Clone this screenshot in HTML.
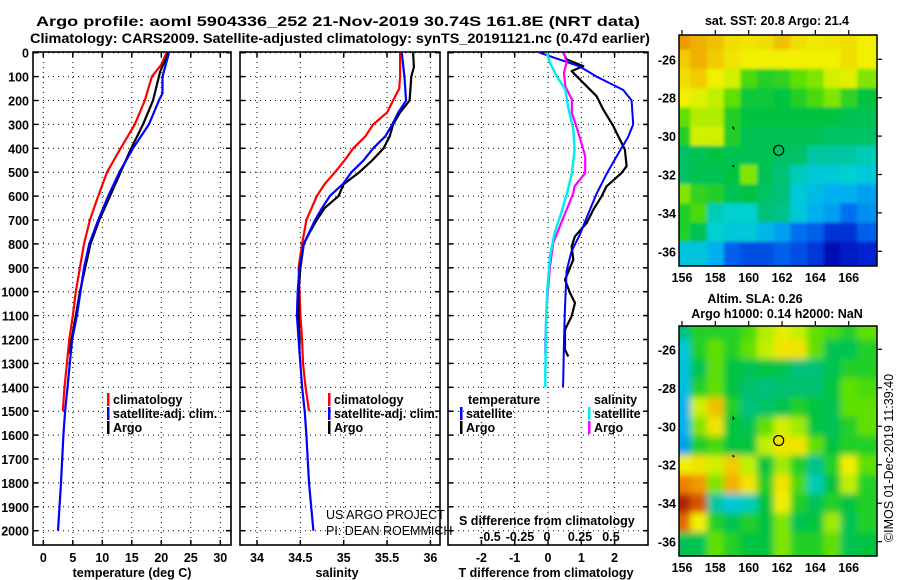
<!DOCTYPE html>
<html><head><meta charset="utf-8"><style>
html,body{margin:0;padding:0;background:#fff;}
svg{display:block;font-family:"Liberation Sans",Arial,sans-serif;}
.b{font-weight:bold;}
</style></head><body>
<svg id="chart" width="900" height="580" viewBox="0 0 900 580" xmlns="http://www.w3.org/2000/svg">
<defs>
<clipPath id="cp1"><rect x="33" y="52" width="198" height="493"/></clipPath>
<clipPath id="cp2"><rect x="240" y="52" width="200" height="493"/></clipPath>
<clipPath id="cp3"><rect x="448" y="52" width="200" height="493"/></clipPath>
<clipPath id="cm1"><rect x="679" y="35" width="198" height="231"/></clipPath>
<clipPath id="cm2"><rect x="679" y="326" width="198" height="230"/></clipPath>
<filter id="blur" x="-5%" y="-5%" width="110%" height="110%"><feGaussianBlur stdDeviation="3.5"/></filter>
<filter id="blur1" x="-5%" y="-5%" width="110%" height="110%"><feGaussianBlur stdDeviation="1.5"/></filter>
</defs>
<text class="b" x="338" y="26" font-size="14" text-anchor="middle" textLength="604" lengthAdjust="spacingAndGlyphs">Argo profile: aoml 5904336_252 21-Nov-2019 30.74S 161.8E (NRT data)</text>
<text class="b" x="340" y="43" font-size="14" text-anchor="middle" textLength="620" lengthAdjust="spacingAndGlyphs">Climatology: CARS2009. Satellite-adjusted climatology: synTS_20191121.nc (0.47d earlier)</text>
<g id="g"></g>
</svg>
<script>
// ===== data =====
const depthTicks=[0,100,200,300,400,500,600,700,800,900,1000,1100,1200,1300,1400,1500,1600,1700,1800,1900,2000];
const tempTicks=[0,5,10,15,20,25,30];
const salTicks=[34,34.5,35,35.5,36];
const salTickLabels=["34","34.5","35","35.5","36"];
const tdiffTicks=[-2,-1,0,1,2];
const sdiffTicks=[-0.5,-0.25,0,0.25,0.5];
const sdiffTickLabels=["-0.5","-0.25","0","0.25","0.5"];
const argoTdepth=[0,80,200,300,400,500,600,700,800,900,1000,1100,1200,1260];
const argoT=[21.2,19.8,18.6,16.9,14.9,13.1,11.3,9.5,8.0,7.1,6.2,5.5,4.8,4.5];
const climTdepth=[0,50,100,200,300,400,500,600,700,800,900,1000,1100,1200,1300,1400,1500];
const climT=[20.9,20.0,18.4,17.2,15.5,13.1,10.8,9.3,7.9,6.9,6.2,5.5,5.0,4.4,4.0,3.6,3.3];
const satTdepth=[0,100,170,200,300,400,500,600,700,800,900,1000,1100,1200,1300,1400,1500,1600,1800,2000];
const satT=[21.3,20.2,20.2,19.6,17.9,15.2,12.9,11.0,9.3,7.8,6.9,6.3,5.7,4.9,4.5,4.1,3.7,3.4,3.0,2.5];
const argoSdepth=[0,60,100,200,250,300,350,400,450,500,550,600,650,700,750,800,900,1000,1100,1200,1260];
const argoS=[35.80,35.81,35.78,35.76,35.65,35.57,35.53,35.46,35.33,35.18,35.0,34.94,34.78,34.69,34.61,34.54,34.50,34.48,34.48,34.49,34.49];
const climSdepth=[0,100,150,200,250,300,350,400,450,500,550,600,650,700,800,900,1000,1100,1200,1300,1400,1500];
const climS=[35.65,35.65,35.64,35.57,35.50,35.34,35.25,35.11,35.01,34.90,34.78,34.69,34.63,34.57,34.52,34.48,34.49,34.50,34.52,34.53,34.56,34.60];
const satSdepth=[0,100,200,250,300,350,400,450,500,550,600,650,700,800,900,1000,1100,1200,1400,1500,1600,1800,2000];
const satS=[35.67,35.70,35.72,35.63,35.56,35.48,35.34,35.23,35.09,34.99,34.84,34.75,34.67,34.54,34.49,34.47,34.46,34.48,34.52,34.55,34.57,34.60,34.65];
const satTdiffDepth=[0,58,100,156,200,300,355,410,507,590,690,760,830,912,1066,1205,1358,1400];
const satTdiff=[-0.25,0.96,1.46,2.26,2.51,2.56,2.4,2.16,1.76,1.46,1.16,0.96,0.71,0.56,0.51,0.48,0.46,0.45];
const argoTdiffDepth=[0,28,56,77,98,140,182,238,307,363,405,475,503,559,601,657,713,768,810,866,950,1005,1047,1103,1159,1243,1271];
const argoTdiff=[0.46,0.56,1.06,0.71,0.86,1.16,1.46,1.66,1.96,2.16,2.31,2.36,2.21,1.76,1.61,1.36,1.16,0.81,0.71,0.76,0.51,0.66,0.81,0.71,0.51,0.51,0.61];
const satSdiffDepth=[0,42,98,154,224,321,405,503,573,670,754,852,991,1130,1358,1400];
const satSdiff=[-0.01,0.015,0.065,0.13,0.15,0.19,0.2,0.18,0.15,0.10,0.05,0.015,-0.005,-0.015,-0.02,-0.02];
const argoSdiffDepth=[0,42,84,140,196,252,321,377,433,503,559,587,643,698,740,796,894,1061,1200,1260];
const argoSdiff=[0.12,0.14,0.12,0.13,0.18,0.18,0.22,0.25,0.28,0.28,0.20,0.19,0.15,0.11,0.08,0.04,0.015,-0.01,-0.02,-0.02];
const mapLons=[156,157,158,159,160,161,162,163,164,165,166,167];
const mapLats=[-25,-26,-27,-28,-29,-30,-31,-32,-33,-34,-35,-36];
const lonTicks=[156,158,160,162,164,166];
const latTicks=[-26,-28,-30,-32,-34,-36];
const sstGrid=[
[.85,.82,.8,.75,.74,.75,.8,.75,.73,.74,.75,.72],
[.78,.82,.78,.74,.72,.72,.72,.72,.72,.72,.75,.72],
[.75,.78,.72,.68,.58,.55,.56,.6,.62,.68,.7,.62],
[.72,.7,.66,.6,.53,.53,.52,.55,.58,.62,.56,.52],
[.6,.65,.65,.55,.52,.52,.52,.52,.52,.52,.5,.5],
[.55,.68,.68,.55,.5,.5,.5,.5,.5,.48,.48,.48],
[.48,.5,.52,.5,.5,.5,.48,.48,.42,.42,.42,.4],
[.48,.5,.5,.52,.62,.5,.46,.4,.36,.36,.38,.36],
[.62,.56,.55,.5,.52,.48,.46,.36,.33,.3,.3,.28],
[.55,.58,.4,.38,.38,.46,.44,.36,.3,.28,.22,.26],
[.55,.5,.38,.36,.36,.32,.28,.22,.2,.14,.14,.2],
[.35,.35,.3,.2,.18,.18,.2,.18,.15,.06,.1,.12]];
const slaGrid=[
[.45,.55,.55,.55,.58,.65,.7,.66,.6,.58,.55,.6],
[.36,.55,.6,.55,.6,.66,.74,.74,.6,.5,.5,.55],
[.34,.5,.6,.52,.5,.52,.5,.46,.46,.5,.55,.55],
[.33,.55,.6,.52,.47,.45,.47,.47,.47,.52,.6,.58],
[.3,.68,.8,.55,.45,.48,.5,.55,.52,.5,.6,.6],
[.3,.62,.74,.52,.5,.6,.68,.64,.52,.5,.55,.6],
[.28,.55,.58,.52,.52,.66,.74,.74,.6,.52,.55,.55],
[.72,.74,.68,.78,.66,.52,.64,.55,.44,.55,.72,.6],
[.88,.85,.62,.82,.74,.55,.74,.58,.4,.52,.66,.55],
[.97,.92,.42,.36,.4,.52,.72,.55,.5,.55,.52,.55],
[.9,.72,.55,.5,.55,.52,.62,.5,.52,.64,.5,.55],
[.5,.5,.6,.55,.52,.52,.62,.55,.55,.6,.5,.52]];
const argoLon=161.8, argoLat=-30.74;

// ===== scales =====
const yD=d=>52.7+d*0.239;
const xT=t=>43.3+t*5.9;
const xS=s=>257+(s-34)*86.7;
const xTd=t=>548+t*33.3;
const xSd=s=>548+s*133;
const mapX=lon=>682+(lon-156)*16.67;
const mapY1=lat=>59.3+(-26-lat)*19.2;
const mapY2=lat=>349.3+(-26-lat)*19.24;

const NS="http://www.w3.org/2000/svg";
const G=document.getElementById('g');
function el(tag,attrs,parent,txt){const e=document.createElementNS(NS,tag);for(const k in attrs)e.setAttribute(k,attrs[k]);if(txt!==undefined)e.textContent=txt;(parent||G).appendChild(e);return e;}

const panels=[[33,231,'cp1'],[240,440,'cp2'],[448,648,'cp3']];
const pgrid=[tempTicks.map(xT),salTicks.map(xS),tdiffTicks.map(xTd)];
panels.forEach((p,i)=>{
  const grp=el('g',{});
  
  
  pgrid[i].forEach(x=>{const l=el('line',{x1:x,x2:x,y1:52,y2:545,stroke:'#000','stroke-width':1,'stroke-dasharray':'1 4'},grp);});
  depthTicks.forEach(d=>{const l=el('line',{x1:p[0],x2:p[1],y1:yD(d),y2:yD(d),stroke:'#000','stroke-width':1,'stroke-dasharray':'1 4'},grp);
    el('line',{x1:p[0],x2:p[0]+5,y1:yD(d),y2:yD(d),stroke:'#000','stroke-width':1.5},grp);
    el('line',{x1:p[1]-5,x2:p[1],y1:yD(d),y2:yD(d),stroke:'#000','stroke-width':1.5},grp);});
  pgrid[i].forEach(x=>{el('line',{x1:x,x2:x,y1:545,y2:540,stroke:'#000','stroke-width':1.5},grp);el('line',{x1:x,x2:x,y1:52,y2:57,stroke:'#000','stroke-width':1.5},grp);});
  const fr=el('rect',{x:p[0],y:52,width:p[1]-p[0],height:493,fill:'none',stroke:'#000','stroke-width':1.6},grp);
  
});
depthTicks.forEach(d=>{const t=el('text',{x:29,y:yD(d)+5,'font-size':12.5,'font-weight':'bold','text-anchor':'end'},G,String(d));});
tempTicks.forEach(v=>{const t=el('text',{x:xT(v),y:562,'font-size':12.5,'font-weight':'bold','text-anchor':'middle'},G,String(v));});
salTicks.forEach((v,i)=>{const t=el('text',{x:xS(v),y:562,'font-size':12.5,'font-weight':'bold','text-anchor':'middle'},G,salTickLabels[i]);});
tdiffTicks.forEach(v=>{const t=el('text',{x:xTd(v),y:562,'font-size':12.5,'font-weight':'bold','text-anchor':'middle'},G,String(v));});
const sdPos={"-0.5":490,"-0.25":520,"0":547,"0.25":580,"0.5":611};
sdiffTicks.forEach((v,i)=>{const t=el('text',{x:sdPos[String(v)],y:541,'font-size':12.5,'font-weight':'bold','text-anchor':'middle'},G,sdiffTickLabels[i]);});
[['temperature (deg C)',132,'temperature-axis-title'],['salinity',337,'salinity-axis-title'],['T difference from climatology',546,'tdiff-axis-title']].forEach(a=>{const t=el('text',{x:a[1],y:577,'font-size':12.5,'font-weight':'bold','text-anchor':'middle'},G,a[0]);});
{const t=el('text',{x:459,y:525,'font-size':12.5,'font-weight':'bold'},G,'S difference from climatology');}

function line(xs,ds,xf,color,w,clip,name){
  const pts=xs.map((v,i)=>xf(v).toFixed(1)+','+yD(ds[i]).toFixed(1)).join(' ');
  const p=el('polyline',{points:pts,fill:'none',stroke:color,'stroke-width':w,'stroke-linejoin':'round','clip-path':'url(#'+clip+')'});
  
}
line(climT,climTdepth,xT,'#f00',2.2,'cp1','climatology-temperature-line');
line(argoT,argoTdepth,xT,'#000',2.2,'cp1','argo-temperature-line');
line(satT,satTdepth,xT,'#00f',2.2,'cp1','satellite-temperature-line');
line(climS,climSdepth,xS,'#f00',2.2,'cp2','climatology-salinity-line');
line(argoS,argoSdepth,xS,'#000',2.2,'cp2','argo-salinity-line');
line(satS,satSdepth,xS,'#00f',2.2,'cp2','satellite-salinity-line');
line(argoTdiff,argoTdiffDepth,xTd,'#000',2.2,'cp3','argo-tdiff-line');
line(satTdiff,satTdiffDepth,xTd,'#00f',2,'cp3','satellite-tdiff-line');
line(argoSdiff,argoSdiffDepth,xSd,'#f0f',2.2,'cp3','argo-sdiff-line');
line(satSdiff,satSdiffDepth,xSd,'#0ee',2.5,'cp3','satellite-sdiff-line');

function leg(x,y,color,txt,name){
  const g=el('g',{});
  if(color) el('rect',{x:x,y:y-11,width:2.5,height:13,fill:color},g);
  el('text',{x:x+6,y:y,'font-size':12.5,'font-weight':'bold'},g,txt);
}
leg(107,404,'#f00','climatology','legend-climatology');
leg(107,418,'#00f','satellite-adj. clim.','legend-satellite-adj');
leg(107,432,'#000','Argo','legend-argo');
leg(328,404,'#f00','climatology','legend-climatology-sal');
leg(328,418,'#00f','satellite-adj. clim.','legend-satellite-adj-sal');
leg(328,432,'#000','Argo','legend-argo-sal');
leg(462,404,null,'temperature','legend-temperature-heading');
leg(460,418,'#00f','satellite','legend-tdiff-satellite');
leg(460,432,'#000','Argo','legend-tdiff-argo');
leg(588,404,null,'salinity','legend-salinity-heading');
leg(588,418,'#0ee','satellite','legend-sdiff-satellite');
leg(588,432,'#f0f','Argo','legend-sdiff-argo');
{const t=el('text',{x:326,y:519,'font-size':12.5},G,'US ARGO PROJECT');
 const t2=el('text',{x:326,y:535,'font-size':12.5},G,'PI: DEAN ROEMMICH');}

const stops=[[0,[0,0,144]],[.12,[0,32,208]],[.22,[0,112,240]],[.3,[0,176,240]],[.38,[0,208,208]],[.45,[0,192,128]],[.52,[0,196,64]],[.6,[96,224,0]],[.66,[192,240,0]],[.72,[240,240,0]],[.8,[240,192,0]],[.88,[240,128,0]],[.95,[192,48,0]],[1,[160,16,0]]];
function cmap(v){for(let i=1;i<stops.length;i++){if(v<=stops[i][0]){const a=stops[i-1],b=stops[i],f=(v-a[0])/(b[0]-a[0]);const c=a[1].map((x,k)=>Math.round(x+(b[1][k]-x)*f));return 'rgb('+c.join(',')+')';}}return 'rgb(160,16,0)';}

function drawMap(grid,yf,clip,top,bot,name,filt,titleLines){
  const g=el('g',{});
  const cg=el('g',{'clip-path':'url(#'+clip+')'},g);
  const ig=el('g',{filter:'url(#'+filt+')'},cg);
  grid.forEach((row,r)=>row.forEach((v,c)=>{
    const x0=mapX(mapLons[c]-0.5),x1=mapX(mapLons[c]+0.5),y0=yf(mapLats[r]+0.5),y1=yf(mapLats[r]-0.5);
    const rc=el('rect',{x:x0-(c==0?20:0),y:y0-(r==0?20:0),width:x1-x0+(c==0?20:0)+(c==11?20:0)+0.5,height:y1-y0+(r==0?20:0)+(r==11?20:0)+0.5,fill:cmap(v)},ig);
    
  }));
  el('path',{d:`M${mapX(159.05)} ${yf(-29.5)} l1 3 M${mapX(159.05)} ${yf(-31.5)} l1 2`,stroke:'#000','stroke-width':1.5},cg);
  const ci=el('circle',{cx:mapX(argoLon),cy:yf(argoLat),r:5,fill:'none',stroke:'#000','stroke-width':1.2},g);
  
  el('rect',{x:679,y:top,width:198,height:bot-top,fill:'none',stroke:'#000','stroke-width':1.5},g);
  lonTicks.forEach(l=>{el('line',{x1:mapX(l),x2:mapX(l),y1:top-5,y2:top,stroke:'#000','stroke-width':1.2},g);
    const t=el('text',{x:mapX(l),y:bot+16,'font-size':12.5,'font-weight':'bold','text-anchor':'middle'},g,String(l));});
  latTicks.forEach(l=>{el('line',{x1:877,x2:882,y1:yf(l),y2:yf(l),stroke:'#000','stroke-width':1.2},g);
    const t=el('text',{x:676,y:yf(l)+5,'font-size':12.5,'font-weight':'bold','text-anchor':'end'},g,String(l));});
  titleLines.forEach(tl=>{const t=el('text',{x:tl[1],y:tl[2],'font-size':12.5,'font-weight':'bold','text-anchor':'middle'},g,tl[0]);});
}
drawMap(sstGrid,mapY1,'cm1',35,266,'sst-map','blur1',[['sat. SST: 20.8 Argo: 21.4',777,25]]);
drawMap(slaGrid,mapY2,'cm2',326,556,'sla-map','blur',[['Altim. SLA: 0.26',755,303],['Argo h1000: 0.14 h2000: NaN',777,318]]);
{const t=el('text',{x:0,y:0,'font-size':12.5,'text-anchor':'middle',transform:'translate(893,458) rotate(-90)'},G,'©IMOS 01-Dec-2019 11:39:40');}
</script>
</body></html>
